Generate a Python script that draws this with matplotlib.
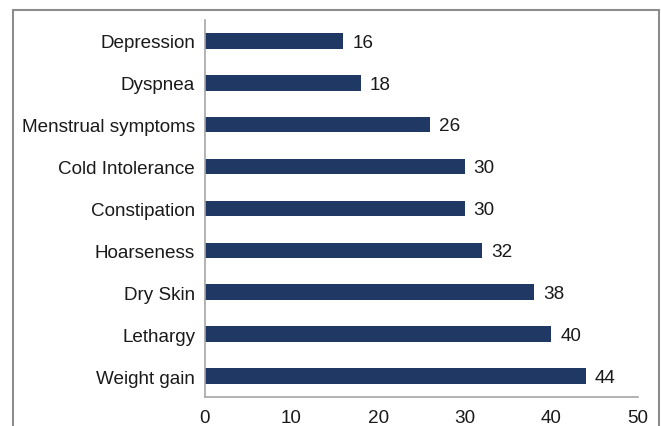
import matplotlib.pyplot as plt
from matplotlib.patches import Rectangle

symptomes = ["Weight gain", "Lethargy", "Dry Skin", "Hoarseness", "Constipation",
             "Cold Intolerance", "Menstrual symptoms", "Dyspnea", "Depression"]
valeurs = [44, 40, 38, 32, 30, 30, 26, 18, 16]
graduations = [0, 10, 20, 30, 40, 50]

plt.rcParams["font.family"] = ["Liberation Sans", "DejaVu Sans"]

fig = plt.figure(figsize=(6.61, 4.27), dpi=100)
ax = fig.add_axes([0.310, 0.068, 0.655, 0.883])

positions = list(range(len(symptomes)))
ax.barh(positions, valeurs, height=0.37, color="#1f3864")

# Etiquettes de valeur
for y, v in zip(positions, valeurs):
    ax.annotate(str(v), (v, y - 0.03), xytext=(6.5, 0), textcoords="offset points",
                ha="left", va="center", fontsize=13.6, color="#1a1a1a")

ax.set_xlim(0, 50)
ax.set_ylim(-0.5, len(symptomes) - 0.5)
ax.set_xticks(graduations)
ax.set_yticks(positions)
ax.set_yticklabels(symptomes)
ax.tick_params(length=0, labelsize=13.6, colors="#1a1a1a", pad=7)
ax.tick_params(axis="x", pad=8.5)

for cote in ["top", "right"]:
    ax.spines[cote].set_visible(False)
for cote in ["left", "bottom"]:
    ax.spines[cote].set_color("#a6a6a6")
    ax.spines[cote].set_linewidth(1.2)

# Cadre autour de la figure
fig.patches.append(Rectangle((13 / 661, -0.1), (659 - 13) / 661, 1.1 - 11 / 427,
                             transform=fig.transFigure, fill=False,
                             edgecolor="#8c8c8c", linewidth=1.5))

fig.savefig("out.png", dpi=100, facecolor="white")
